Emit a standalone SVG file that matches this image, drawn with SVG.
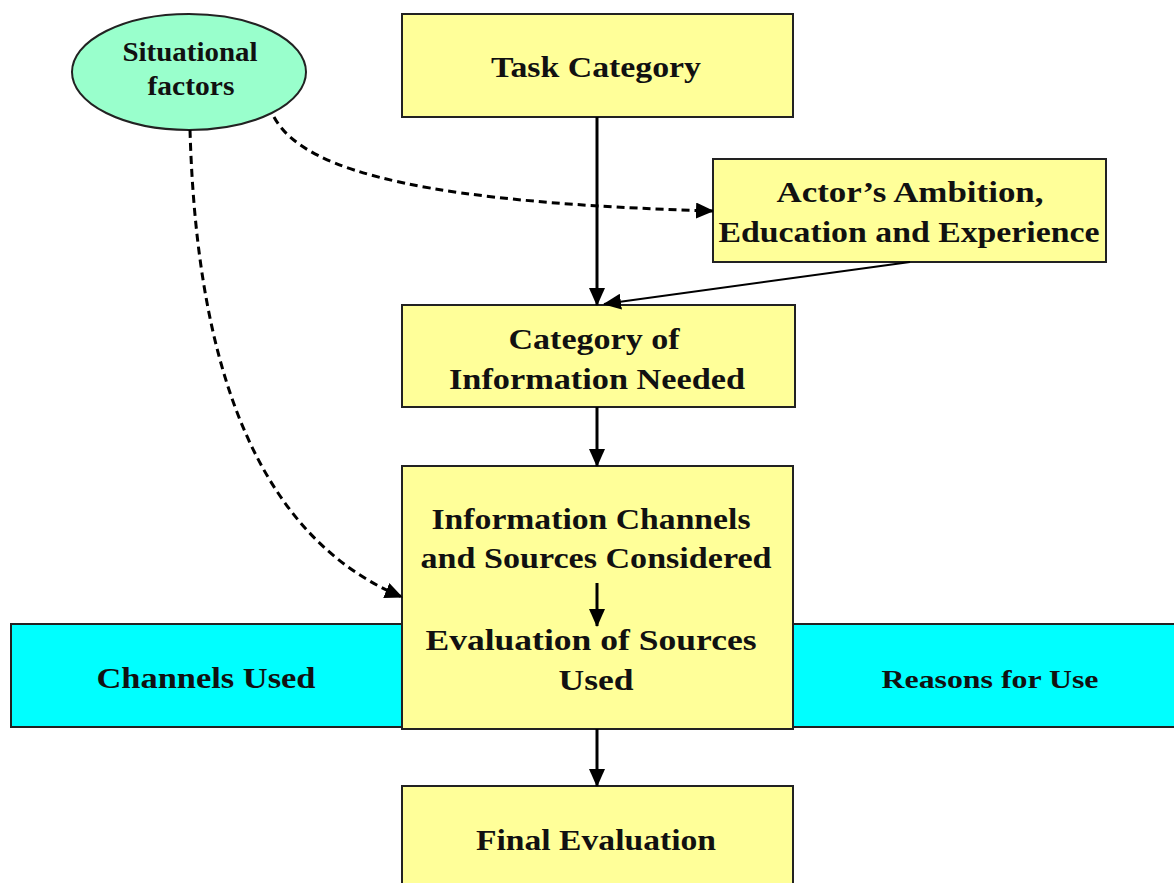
<svg xmlns="http://www.w3.org/2000/svg" width="1174" height="883" viewBox="0 0 1174 883">
<style>
.box{fill:#FFFF99;stroke:#222;stroke-width:2}
.band{fill:#00FFFF;stroke:#222;stroke-width:2}
.ell{fill:#99FFCC;stroke:#222;stroke-width:2}
text{font-family:"Liberation Serif","Times New Roman",serif;font-weight:bold;fill:#111;text-anchor:middle}
.t30{font-size:30px}
.t27{font-size:27px}
.t26{font-size:26px}
.c{fill:none;stroke:#000;stroke-width:3}
.d{fill:none;stroke:#000;stroke-width:3;stroke-dasharray:8 5}
.thin{fill:none;stroke:#000;stroke-width:2}
</style>
<defs>
<marker id="ahl" markerWidth="18" markerHeight="16" refX="17" refY="8" orient="auto" markerUnits="userSpaceOnUse" viewBox="0 0 18 16">
<path d="M0,0 L18,8 L0,16 Z" fill="#000"/>
</marker>
</defs>
<g id="band-left"><rect class="band" x="11" y="624" width="391" height="103"/><text class="t30" x="206" y="688" textLength="219" lengthAdjust="spacingAndGlyphs">Channels Used</text></g>
<g id="band-right"><rect class="band" x="792" y="624" width="384" height="103"/><text class="t26" x="990" y="688" textLength="217" lengthAdjust="spacingAndGlyphs">Reasons  for Use</text></g>
<g id="situational"><ellipse class="ell" cx="189" cy="72" rx="117" ry="58"/><text class="t27" x="190" y="61" textLength="135" lengthAdjust="spacingAndGlyphs">Situational</text><text class="t27" x="191" y="95" textLength="87" lengthAdjust="spacingAndGlyphs">factors</text></g>
<g id="task"><rect class="box" x="402" y="14" width="391" height="103"/><text class="t30" x="596" y="77" textLength="210" lengthAdjust="spacingAndGlyphs">Task Category</text></g>
<g id="actor"><rect class="box" x="713" y="159" width="393" height="103"/><text class="t30" x="910" y="202" textLength="267" lengthAdjust="spacingAndGlyphs">Actor’s Ambition,</text><text class="t30" x="909" y="242" textLength="381" lengthAdjust="spacingAndGlyphs">Education and Experience</text></g>
<g id="category"><rect class="box" x="402" y="305" width="393" height="102"/><text class="t30" x="594" y="349" textLength="171" lengthAdjust="spacingAndGlyphs">Category of</text><text class="t30" x="597" y="389" textLength="296" lengthAdjust="spacingAndGlyphs">Information Needed</text></g>
<g id="channels"><rect class="box" x="402" y="466" width="391" height="263"/><text class="t30" x="591" y="529" textLength="319" lengthAdjust="spacingAndGlyphs">Information Channels</text><text class="t30" x="596" y="568" textLength="351" lengthAdjust="spacingAndGlyphs">and Sources Considered</text><text class="t30" x="591" y="650" textLength="331" lengthAdjust="spacingAndGlyphs">Evaluation of  Sources</text><text class="t30" x="596" y="690" textLength="75" lengthAdjust="spacingAndGlyphs">Used</text><line class="c" x1="597" y1="583" x2="597" y2="626" marker-end="url(#ahl)"/></g>
<g id="final"><rect class="box" x="402" y="786" width="391" height="110"/><text class="t30" x="596" y="850" textLength="240" lengthAdjust="spacingAndGlyphs">Final Evaluation</text></g>
<g id="connectors">
<line class="c" x1="597" y1="117" x2="597" y2="305" marker-end="url(#ahl)"/>
<line class="thin" x1="910" y1="262" x2="604" y2="304" marker-end="url(#ahl)"/>
<line class="c" x1="597" y1="407" x2="597" y2="466" marker-end="url(#ahl)"/>
<line class="c" x1="597" y1="729" x2="597" y2="786" marker-end="url(#ahl)"/>
<path class="d" d="M274,117 C305,175 440,203 713,211" marker-end="url(#ahl)"/>
<path class="d" d="M190,130 C195,300 228,525 402,597" marker-end="url(#ahl)"/>
</g>
</svg>
